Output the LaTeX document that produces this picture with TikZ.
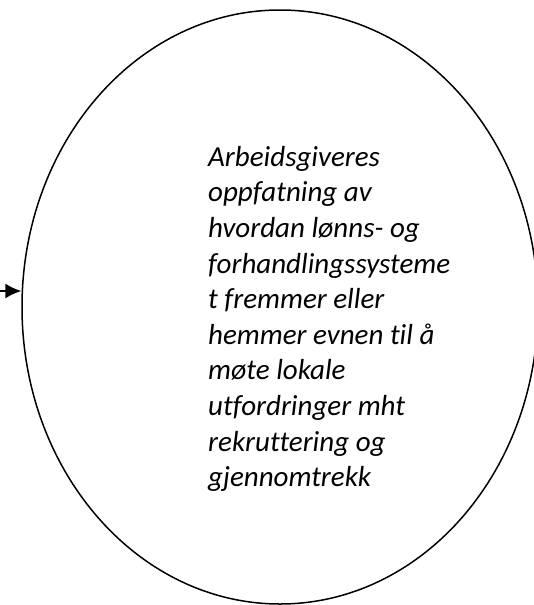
\documentclass[tikz,border=0pt]{standalone}
\usepackage{fontspec}
\setmainfont{Carlito}[Ligatures={NoCommon,TeX}]
\usetikzlibrary{shapes.geometric,arrows.meta}
\begin{document}
\begin{tikzpicture}[x=1pt,y=-1pt]
    \tikzstyle{outer oval}=[ellipse,draw,line width=1.5pt,minimum width=516pt,minimum height=594pt,inner sep=0]
    \tikzstyle{oval text}=[align=left,inner sep=0,anchor=north west,font=\itshape\fontsize{29}{35.6}\selectfont]
    \useasboundingbox (0,0) rectangle (534,605);

    \node(oval)[outer oval] at (280,307){};
    \node(label)[oval text] at (208,146){Arbeidsgiveres\\oppfatning av\\hvordan lønns- og\\forhandlingssysteme\\t fremmer eller\\hemmer evnen til å\\møte lokale\\utfordringer mht\\rekruttering og\\gjennomtrekk};

    \coordinate(src) at (0,291);
    \draw[->,>={Latex[length=16pt,width=15pt]},line width=1.5pt](src)--(src-|oval.west);
\end{tikzpicture}
\end{document}
